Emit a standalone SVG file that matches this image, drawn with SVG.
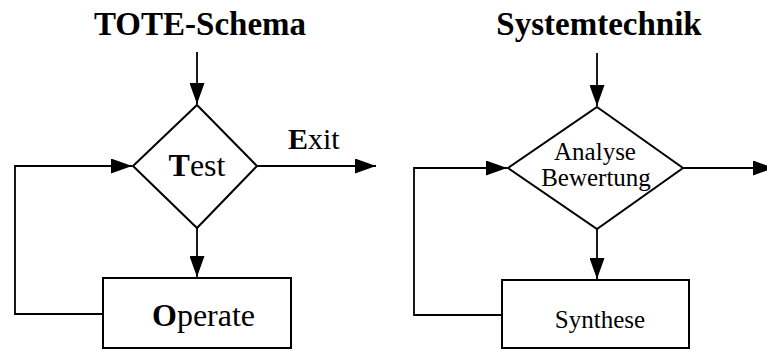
<svg xmlns="http://www.w3.org/2000/svg" width="767" height="351" viewBox="0 0 767 351">
  <style>
    .shape { fill: #fff; stroke: #000; stroke-width: 2; }
    .wire { fill: none; stroke: #000; stroke-width: 1.8; }
    .serif { font-family: "Liberation Serif", "Times New Roman", serif; fill: #000; }
    .title { font-size: 33px; font-weight: bold; text-anchor: middle; }
    .big { font-size: 32px; }
    .small { font-size: 25px; text-anchor: middle; }
    .b { font-weight: bold; }
  </style>
  <defs>
    <marker id="arrow" markerUnits="userSpaceOnUse" markerWidth="21" markerHeight="15" refX="21" refY="7.5" orient="auto">
      <path d="M0,0 L21,7.5 L0,15 Z" fill="#000"/>
    </marker>
  </defs>
  <rect width="767" height="351" fill="#fff"/>

  <!-- left flowchart: TOTE -->
  <text class="serif title" x="200" y="35">TOTE-Schema</text>
  <g id="tote-test">
    <polygon class="shape" points="197,105 257,166 197,228 133,166"/>
    <text class="serif big" x="197" y="176" text-anchor="middle"><tspan class="b">T</tspan>est</text>
  </g>
  <g id="tote-operate">
    <rect class="shape" x="103" y="278" width="188" height="70"/>
    <text class="serif big" x="152" y="326"><tspan class="b">O</tspan>perate</text>
  </g>
  <text class="serif" x="288" y="149" font-size="30"><tspan class="b">E</tspan>xit</text>

  <!-- right flowchart: Systemtechnik -->
  <text class="serif title" x="599" y="35">Systemtechnik</text>
  <g id="sys-analyse">
    <polygon class="shape" points="597,107 683,168 597,229 508,168"/>
    <text class="serif small" x="595" y="160">Analyse</text>
    <text class="serif small" x="596" y="186">Bewertung</text>
  </g>
  <g id="sys-synthese">
    <rect class="shape" x="502" y="280" width="187" height="68"/>
    <text class="serif small" x="600" y="328">Synthese</text>
  </g>

  <g id="connectors">
    <!-- TOTE -->
    <path class="wire" d="M197,52 L197,104" marker-end="url(#arrow)"/>
    <path class="wire" d="M197,228 L197,277" marker-end="url(#arrow)"/>
    <path class="wire" d="M103,314 L15,314 L15,166 L132,166" marker-end="url(#arrow)"/>
    <path class="wire" d="M257,166 L376,166" marker-end="url(#arrow)"/>
    <!-- Systemtechnik -->
    <path class="wire" d="M597,53 L597,106" marker-end="url(#arrow)"/>
    <path class="wire" d="M597,229 L597,279" marker-end="url(#arrow)"/>
    <path class="wire" d="M502,315 L414,315 L414,168 L507,168" marker-end="url(#arrow)"/>
    <path class="wire" d="M683,168 L774,168" marker-end="url(#arrow)"/>
  </g>
</svg>
